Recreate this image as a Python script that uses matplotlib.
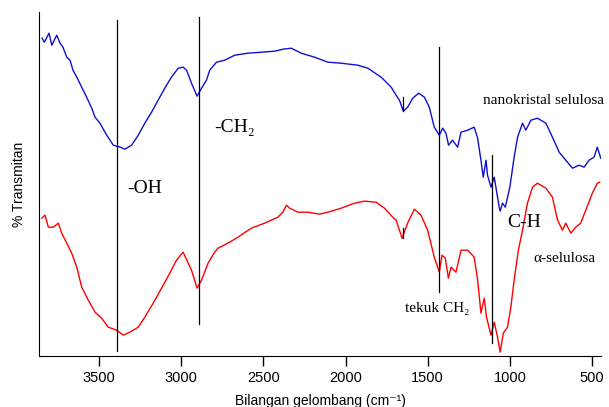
import numpy as np
import matplotlib.pyplot as plt

# FTIR spektrum, nilai (transmitan dalam satuan bebas)
wn_nano = [3846, 3832, 3804, 3787, 3757, 3737, 3719, 3696, 3676, 3658, 3635, 3605,
           3575, 3544, 3524, 3494, 3453, 3413, 3372, 3342, 3301, 3261, 3221, 3180,
           3130, 3089, 3059, 3018, 2988, 2967, 2937, 2903, 2876, 2846, 2826, 2785,
           2735, 2674, 2595, 2512, 2431, 2381, 2330, 2269, 2188, 2107, 2026, 1925,
           1864, 1783, 1722, 1692, 1672, 1648, 1622, 1591, 1555, 1520, 1490, 1460,
           1429, 1409, 1389, 1373, 1349, 1318, 1297, 1257, 1217, 1196, 1176, 1162,
           1145, 1136, 1115, 1095, 1065, 1059, 1045, 1028, 1000, 974, 953, 923,
           903, 872, 832, 781, 741, 700, 660, 619, 579, 548, 518, 488, 468, 447]
t_nano = [318, 314, 323, 311, 321, 313, 309, 299, 296, 286, 279, 269,
          259, 248, 239, 233, 221, 211, 209, 207, 211, 221, 233, 244,
          259, 271, 279, 288, 289, 286, 273, 260, 268, 276, 286, 294,
          296, 301, 303, 304, 305, 307, 308, 303, 299, 294, 293, 291,
          288, 279, 269, 261, 256, 245, 249, 258, 263, 259, 249, 229,
          221, 228, 223, 211, 216, 209, 224, 226, 229, 218, 196, 179,
          196, 181, 169, 179, 149, 145, 153, 149, 169, 199, 219, 233,
          226, 236, 238, 233, 219, 204, 196, 188, 191, 189, 196, 199, 209, 198]

wn_alfa = [3848, 3828, 3808, 3778, 3747, 3727, 3696, 3666, 3635, 3605, 3565, 3524,
           3484, 3444, 3393, 3352, 3312, 3261, 3221, 3170, 3119, 3069, 3028, 2988,
           2937, 2903, 2876, 2836, 2796, 2776, 2715, 2654, 2573, 2492, 2411, 2381,
           2360, 2340, 2290, 2229, 2158, 2107, 2026, 1945, 1885, 1814, 1763, 1713,
           1692, 1656, 1622, 1581, 1541, 1500, 1460, 1429, 1413, 1393, 1374, 1358,
           1328, 1297, 1257, 1217, 1196, 1176, 1156, 1142, 1115, 1095, 1075, 1059,
           1040, 1014, 994, 974, 948, 923, 893, 862, 832, 781, 741, 710,
           680, 660, 629, 599, 569, 538, 498, 468, 453]
t_alfa = [138, 141, 129, 129, 133, 123, 113, 103, 89, 69, 56, 44,
          38, 29, 26, 21, 24, 29, 39, 53, 68, 83, 96, 104,
          86, 68, 76, 93, 104, 108, 113, 119, 128, 133, 139, 144,
          151, 148, 144, 144, 142, 144, 148, 153, 155, 154, 148, 139,
          136, 118, 133, 147, 141, 126, 99, 84, 101, 98, 78, 89,
          84, 106, 106, 99, 76, 43, 58, 39, 21, 34, 19, 4,
          23, 29, 49, 76, 106, 126, 153, 169, 173, 168, 159, 136,
          126, 133, 123, 129, 133, 146, 163, 173, 174]

# garis penanda gugus fungsi: (bilangan gelombang, bawah, atas)
penanda = [(3390, 5, 336), (2890, 32, 339), (1430, 64, 309), (1110, 13, 201),
           (1650, 245, 259), (1650, 118, 128)]

serif = ['Liberation Serif', 'DejaVu Serif']
sans = ['Liberation Sans', 'DejaVu Sans']

fig = plt.figure(figsize=(6.09, 4.07), dpi=100)
ax = fig.add_axes([0.064, 0.125, 0.923, 0.845])

ax.plot(wn_nano, t_nano, color='#1010d0', lw=1.0)
ax.plot(wn_alfa, t_alfa, color='#ff0000', lw=1.0)

for x, y0, y1 in penanda:
    ax.plot([x, x], [y0, y1], color='black', lw=0.9)

ax.text(3330, 168, '-OH', family=serif, fontsize=14, va='center')
ax.text(2800, 229, '-CH\u2082', family=serif, fontsize=14, va='center')
ax.text(1016, 134, 'C-H', family=serif, fontsize=14, va='center')
ax.text(1162, 256, 'nanokristal selulosa', family=serif, fontsize=11, va='center')
ax.text(858, 98, '\u03b1-selulosa', family=serif, fontsize=11, va='center')
ax.text(1636, 48, 'tekuk CH\u2082', family=serif, fontsize=11, va='center')

ax.set_xlim(3865, 445)
ax.set_ylim(0, 344)
ax.set_xticks([3500, 3000, 2500, 2000, 1500, 1000, 500])
ax.set_yticks([])
ax.tick_params(axis='x', length=7, width=1, labelsize=10.5)
for lab in ax.get_xticklabels():
    lab.set_family(sans)
ax.spines['top'].set_visible(False)
ax.spines['right'].set_visible(False)
ax.set_ylabel('% Transmitan', family=sans, fontsize=10, labelpad=9)
ax.set_xlabel('Bilangan gelombang (cm\u207b\u00b9)', family=sans, fontsize=10, labelpad=7)

fig.savefig('out.png', dpi=100)
